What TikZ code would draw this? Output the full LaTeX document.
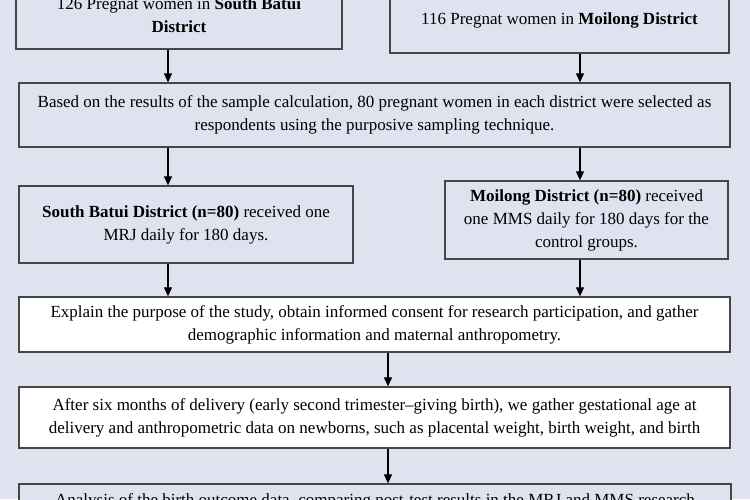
\documentclass[tikz,border=0pt]{standalone}
\usepackage{fontspec}
\setmainfont{Liberation Serif}
\usetikzlibrary{arrows.meta, calc}
\definecolor{pagebg}{RGB}{223,227,240}
\definecolor{boxline}{RGB}{70,70,70}
\newcommand{\flowfont}{\fontsize{17}{23}\selectfont}
\tikzset{
  bxL/.style={draw=boxline, fill=pagebg, minimum width=#1, align=center,
              font=\flowfont, line width=1.3pt, inner sep=0pt},
  bxW/.style={draw=boxline, fill=white,  minimum width=#1, align=center,
              font=\flowfont, line width=1.3pt, inner sep=0pt},
  arr/.style={-{Triangle[length=9pt,width=8pt]}, line width=1.1pt},
}
\begin{document}
\begin{tikzpicture}[x=1pt, y=-1pt]
    \useasboundingbox (0,0) rectangle (750,499);
    \fill[pagebg] (0,0) rectangle (750,499);
    \clip (0,0) rectangle (750,499);

    \coordinate (lx) at (168,0);
    \coordinate (mx) at (388,0);
    \coordinate (rx) at (580,0);

    \node[bxL=326pt, minimum height=68pt] (sbt)  at (179,   15) {126 Pregnat women in \textbf{South Batui}\\\textbf{District}};
    \node[bxL=339pt, minimum height=66pt] (mlg)  at (559.5, 20) {116 Pregnat women in \textbf{Moilong District}};
    \node[bxL=711pt, minimum height=64pt] (samp) at (374.5,115) {Based on the results of the sample calculation, 80 pregnant women in each district were selected as\\respondents using the purposive sampling technique.};
    \node[bxL=334pt, minimum height=77pt] (mrj)  at (186, 224.5) {\textbf{South Batui District (n=80)} received one\\MRJ daily for 180 days.};
    \node[bxL=283pt, minimum height=78pt] (mms)  at (586.5,220) {\textbf{Moilong District (n=80)} received\\one MMS daily for 180 days for the\\control groups.};
    \node[bxW=711pt, minimum height=55pt] (expl) at (374.5,324.5) {Explain the purpose of the study, obtain informed consent for research participation, and gather\\demographic information and maternal anthropometry.};
    \node[bxW=711pt, minimum height=61pt] (aft)  at (374.5,417.5) {After six months of delivery (early second trimester--giving birth), we gather gestational age at\\delivery and anthropometric data on newborns, such as placental weight, birth weight, and birth};
    \node[bxL=712pt, minimum height=34pt] (ana)  at (375, 501) {Analysis of the birth outcome data, comparing post-test results in the MRJ and MMS research};

    \draw[arr] (sbt.south -| lx)  -- (samp.north -| lx);
    \draw[arr] (mlg.south -| rx)  -- (samp.north -| rx);
    \draw[arr] (samp.south -| lx) -- (mrj.north -| lx);
    \draw[arr] (samp.south -| rx) -- (mms.north -| rx);
    \draw[arr] (mrj.south -| lx)  -- (expl.north -| lx);
    \draw[arr] (mms.south -| rx)  -- (expl.north -| rx);
    \draw[arr] (expl.south -| mx) -- (aft.north -| mx);
    \draw[arr] (aft.south -| mx)  -- (ana.north -| mx);
  \end{tikzpicture}
\end{document}
